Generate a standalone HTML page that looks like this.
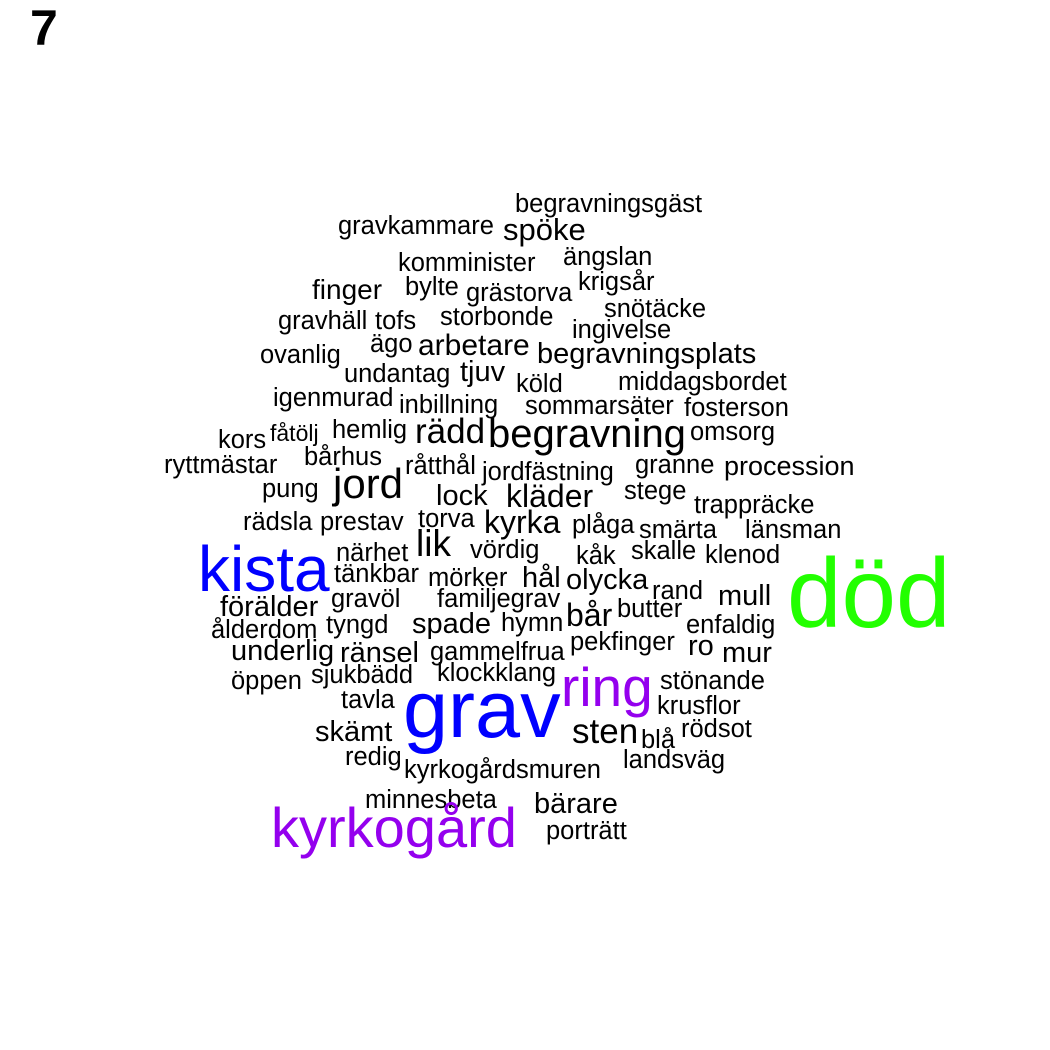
<!DOCTYPE html>
<html><head><meta charset="utf-8"><style>
html,body{margin:0;padding:0;background:#fff;width:1050px;height:1050px;overflow:hidden}
svg text{font-family:"Liberation Sans",Arial,sans-serif;fill:#000}
</style></head><body>
<svg width="1050" height="1050" viewBox="0 0 1050 1050">
<text x="30" y="45" font-size="50" font-weight="bold">7</text>
<g id="words"></g>
</svg>
<script>
const words=[
["begravningsgäst",515,212,25.5],["gravkammare",338,234,25.5],["spöke",503,240,31],["komminister",398,271,25.5],
["ängslan",563,265,25.5],["finger",312,299,28],["bylte",405,295,25.5],["grästorva",466,301,25.5],["krigsår",578,290,25.5],
["snötäcke",604,317,25.5],["gravhäll",278,329,25.5],["tofs",375,329,25.5],["storbonde",440,325,25.5],["ingivelse",572,338,25.5],
["ovanlig",260,363,25.5],["ägo",370,352,25.5],["arbetare",418,355,30],["begravningsplats",537,363,29],["undantag",344,382,25.5],
["tjuv",460,381,29],["köld",516,392,25.5],["middagsbordet",618,390,25.5],["igenmurad",273,406,25.5],["inbillning",399,413,25.5],
["sommarsäter",525,414,25.5],["fosterson",684,416,25.5],["kors",218,448,25.5],["fåtölj",270,441,23],["hemlig",332,438,25.5],
["rädd",415,443,35],["begravning",488,447,40],["omsorg",690,440,25.5],["ryttmästar",164,473,25.5],["bårhus",304,465,25.5],
["råtthål",405,474,25.5],["jordfästning",482,480,25.5],["granne",635,473,25.5],["procession",724,475,27],["pung",262,497,25.5],
["jord",333,498,42],["lock",436,505,29],["kläder",506,507,32],["stege",624,499,25.5],["trappräcke",694,513,25.5],
["rädsla",243,530,25.5],["prestav",320,530,25.5],["torva",418,527,25.5],["kyrka",484,533,32],["plåga",572,533,25.5],
["smärta",639,538,25.5],["länsman",745,538,25.5],["kista",198,591,64,"#0000ff"],["närhet",336,561,25.5],["lik",416,556,37],
["vördig",470,558,25.5],["kåk",576,564,25.5],["skalle",631,559,25.5],["klenod",705,563,25.5],["död",787,627,98,"#22ff00"],
["tänkbar",334,582,25.5],["mörker",428,586,25.5],["hål",522,587,29],["olycka",566,589,29],["rand",652,599,25.5],
["mull",718,605,29],["förälder",220,616,29],["gravöl",331,607,25.5],["familjegrav",437,607,25.5],["bår",566,626,32],
["butter",617,617,25.5],["ålderdom",211,638,25.5],["tyngd",326,633,25.5],["spade",412,633,29],["hymn",501,631,25.5],
["enfaldig",686,633,25.5],["pekfinger",570,650,25.5],["ro",688,655,29],["mur",722,662,29],["underlig",231,660,29],
["ränsel",340,662,29],["gammelfrua",430,660,25.5],["klockklang",437,681,25.5],["öppen",231,689,25.5],["sjukbädd",311,683,25.5],
["ring",561,706,55,"#9400ee"],["stönande",660,689,25.5],["tavla",341,708,25.5],["grav",403,737,81,"#0000ff"],
["krusflor",657,714,25.5],["skämt",315,741,29],["sten",572,743,35],["blå",641,748,25.5],["rödsot",681,737,25.5],
["redig",345,765,25.5],["kyrkogårdsmuren",404,778,25.5],["landsväg",623,768,25.5],["minnesbeta",365,808,25.5],
["bärare",534,813,29],["kyrkogård",271,847,56,"#9400ee"],["porträtt",546,839,25.5]
];
const g=document.getElementById('words');
for(const w of words){
  const t=document.createElementNS('http://www.w3.org/2000/svg','text');
  t.setAttribute('x',w[1]);t.setAttribute('y',w[2]);t.setAttribute('font-size',w[3]);
  if(w[4])t.style.fill=w[4];
  t.textContent=w[0];
  
  
  g.appendChild(t);
}
</script>
</body></html>
